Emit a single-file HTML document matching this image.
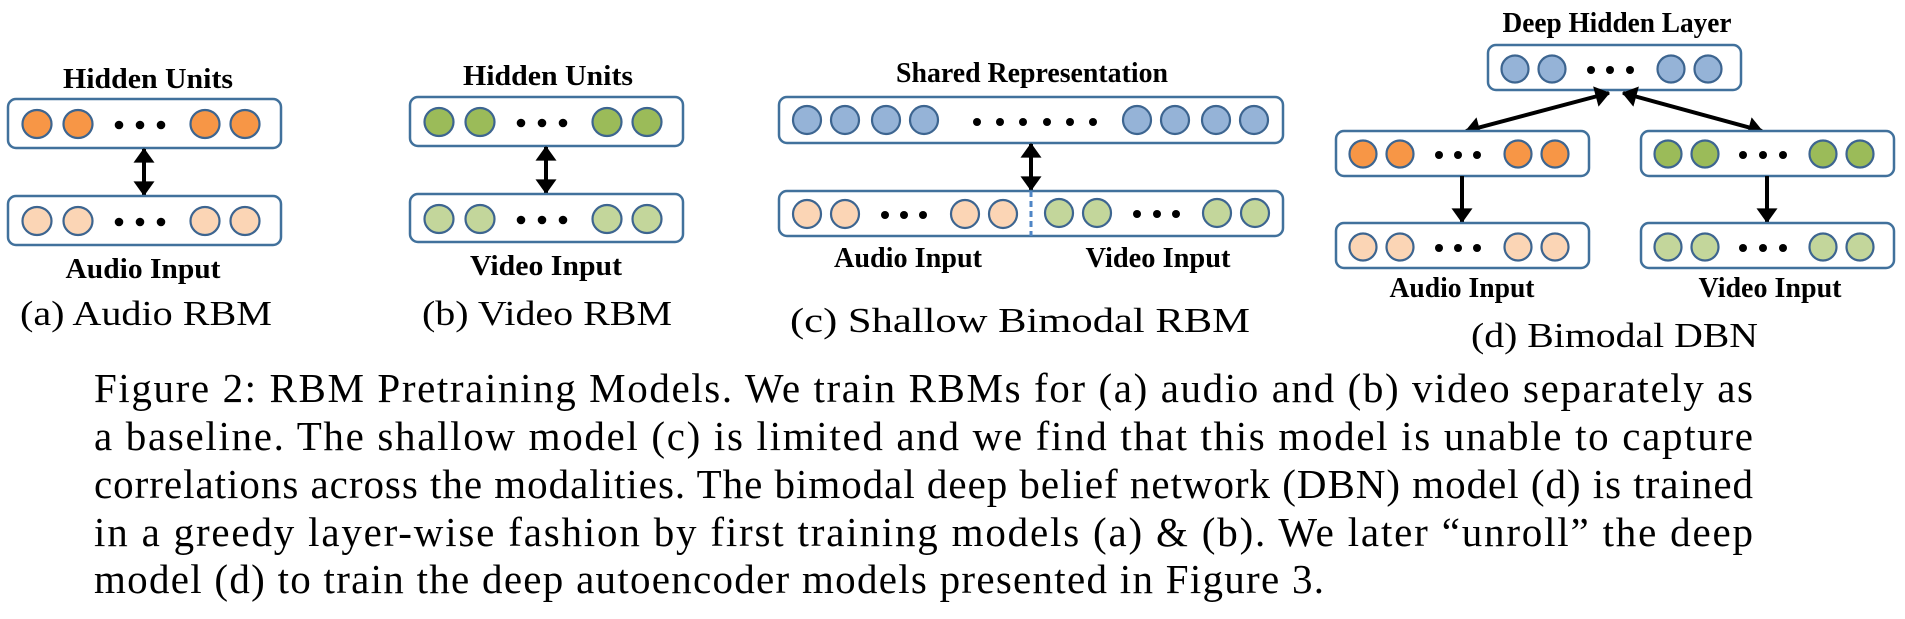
<!DOCTYPE html>
<html><head><meta charset="utf-8"><style>
html,body{margin:0;padding:0;background:#fff;}
svg{display:block}
.bl{font-family:"Liberation Serif",serif;font-weight:bold;font-size:28px;fill:#000}
.cap{font-family:"Liberation Serif",serif;font-size:35px;fill:#000}
.cp{font-family:"Liberation Serif",serif;font-size:41px;fill:#000}
.box{fill:#fff;stroke:#41719c;stroke-width:2.5}
circle.n,ellipse.n{stroke:#3d6590;stroke-width:2.2}
.ar{stroke:#000;stroke-width:4;fill:none}
</style></head><body>
<svg width="1905" height="619" viewBox="0 0 1905 619" xmlns="http://www.w3.org/2000/svg">
<defs>
<marker id="h" viewBox="0 0 14 20" refX="13" refY="10" markerUnits="userSpaceOnUse" markerWidth="15" markerHeight="21" orient="auto-start-reverse"><path d="M0,0 L14,10 L0,20 z" fill="#000"/></marker>
</defs>

<!-- (a) -->
<text class="bl" x="148" y="88" text-anchor="middle" textLength="170" lengthAdjust="spacingAndGlyphs">Hidden Units</text>
<rect class="box" x="8" y="99" width="273" height="49" rx="8"/>
<g fill="#f79646"><ellipse class="n" cx="37" cy="124" rx="14.5" ry="14"/><ellipse class="n" cx="78" cy="124" rx="14.5" ry="14"/><ellipse class="n" cx="205" cy="124" rx="14.5" ry="14"/><ellipse class="n" cx="245" cy="124" rx="14.5" ry="14"/></g>
<g fill="#000"><circle cx="119" cy="125" r="4.3"/><circle cx="140" cy="125" r="4.3"/><circle cx="161" cy="125" r="4.3"/></g>
<line class="ar" x1="144" y1="149" x2="144" y2="195" marker-start="url(#h)" marker-end="url(#h)"/>
<rect class="box" x="8" y="196" width="273" height="49" rx="8"/>
<g fill="#fbd5b5"><ellipse class="n" cx="37" cy="221" rx="14.5" ry="14"/><ellipse class="n" cx="78" cy="221" rx="14.5" ry="14"/><ellipse class="n" cx="205" cy="221" rx="14.5" ry="14"/><ellipse class="n" cx="245" cy="221" rx="14.5" ry="14"/></g>
<g fill="#000"><circle cx="119" cy="222" r="4.3"/><circle cx="140" cy="222" r="4.3"/><circle cx="161" cy="222" r="4.3"/></g>
<text class="bl" x="143" y="278" text-anchor="middle" textLength="155" lengthAdjust="spacingAndGlyphs">Audio Input</text>
<text class="cap" x="20" y="325" textLength="252" lengthAdjust="spacingAndGlyphs">(a) Audio RBM</text>

<!-- (b) -->
<text class="bl" x="548" y="85" text-anchor="middle" textLength="170" lengthAdjust="spacingAndGlyphs">Hidden Units</text>
<rect class="box" x="410" y="97" width="273" height="49" rx="8"/>
<g fill="#9bbb59"><ellipse class="n" cx="439" cy="122" rx="14.5" ry="14"/><ellipse class="n" cx="480" cy="122" rx="14.5" ry="14"/><ellipse class="n" cx="607" cy="122" rx="14.5" ry="14"/><ellipse class="n" cx="647" cy="122" rx="14.5" ry="14"/></g>
<g fill="#000"><circle cx="521" cy="123" r="4.3"/><circle cx="542" cy="123" r="4.3"/><circle cx="563" cy="123" r="4.3"/></g>
<line class="ar" x1="546" y1="147" x2="546" y2="193" marker-start="url(#h)" marker-end="url(#h)"/>
<rect class="box" x="410" y="194" width="273" height="48" rx="8"/>
<g fill="#c3d69b"><ellipse class="n" cx="439" cy="219" rx="14.5" ry="14"/><ellipse class="n" cx="480" cy="219" rx="14.5" ry="14"/><ellipse class="n" cx="607" cy="219" rx="14.5" ry="14"/><ellipse class="n" cx="647" cy="219" rx="14.5" ry="14"/></g>
<g fill="#000"><circle cx="521" cy="220" r="4.3"/><circle cx="542" cy="220" r="4.3"/><circle cx="563" cy="220" r="4.3"/></g>
<text class="bl" x="546" y="275" text-anchor="middle" textLength="152" lengthAdjust="spacingAndGlyphs">Video Input</text>
<text class="cap" x="422" y="325" textLength="250" lengthAdjust="spacingAndGlyphs">(b) Video RBM</text>

<!-- (c) -->
<text class="bl" x="896" y="82" textLength="272" lengthAdjust="spacingAndGlyphs">Shared Representation</text>
<rect class="box" x="779" y="97" width="504" height="46" rx="8"/>
<g fill="#95b3d7"><ellipse class="n" cx="807" cy="120" rx="14" ry="14"/><ellipse class="n" cx="845" cy="120" rx="14" ry="14"/><ellipse class="n" cx="886" cy="120" rx="14" ry="14"/><ellipse class="n" cx="924" cy="120" rx="14" ry="14"/><ellipse class="n" cx="1137" cy="120" rx="14" ry="14"/><ellipse class="n" cx="1175" cy="120" rx="14" ry="14"/><ellipse class="n" cx="1216" cy="120" rx="14" ry="14"/><ellipse class="n" cx="1254" cy="120" rx="14" ry="14"/></g>
<g fill="#000"><circle cx="977" cy="122" r="4"/><circle cx="1000" cy="122" r="4"/><circle cx="1023" cy="122" r="4"/><circle cx="1047" cy="122" r="4"/><circle cx="1070" cy="122" r="4"/><circle cx="1093" cy="122" r="4"/></g>
<line class="ar" x1="1031" y1="144" x2="1031" y2="190" marker-start="url(#h)" marker-end="url(#h)"/>
<rect class="box" x="779" y="191" width="504" height="45" rx="8"/>
<line x1="1031" y1="191" x2="1031" y2="236" stroke="#4f86c6" stroke-width="3" stroke-dasharray="6,4"/>
<g fill="#fbd5b5"><ellipse class="n" cx="807" cy="214" rx="14" ry="14"/><ellipse class="n" cx="845" cy="214" rx="14" ry="14"/><ellipse class="n" cx="965" cy="214" rx="14" ry="14"/><ellipse class="n" cx="1003" cy="214" rx="14" ry="14"/></g>
<g fill="#c3d69b"><ellipse class="n" cx="1059" cy="213" rx="14" ry="14"/><ellipse class="n" cx="1097" cy="213" rx="14" ry="14"/><ellipse class="n" cx="1217" cy="213" rx="14" ry="14"/><ellipse class="n" cx="1255" cy="213" rx="14" ry="14"/></g>
<g fill="#000"><circle cx="885" cy="215" r="4"/><circle cx="904" cy="215" r="4"/><circle cx="923" cy="215" r="4"/><circle cx="1137" cy="214" r="4"/><circle cx="1157" cy="214" r="4"/><circle cx="1176" cy="214" r="4"/></g>
<text class="bl" x="908" y="267" text-anchor="middle" textLength="148" lengthAdjust="spacingAndGlyphs">Audio Input</text>
<text class="bl" x="1158" y="267" text-anchor="middle" textLength="145" lengthAdjust="spacingAndGlyphs">Video Input</text>
<text class="cap" x="790" y="332" textLength="460" lengthAdjust="spacingAndGlyphs">(c) Shallow Bimodal RBM</text>

<!-- (d) -->
<text class="bl" x="1617" y="32" text-anchor="middle" textLength="229" lengthAdjust="spacingAndGlyphs">Deep Hidden Layer</text>
<rect class="box" x="1488" y="45" width="253" height="45" rx="8"/>
<g fill="#95b3d7"><ellipse class="n" cx="1515" cy="69" rx="13.5" ry="13.5"/><ellipse class="n" cx="1552" cy="69" rx="13.5" ry="13.5"/><ellipse class="n" cx="1671" cy="69" rx="13.5" ry="13.5"/><ellipse class="n" cx="1708" cy="69" rx="13.5" ry="13.5"/></g>
<g fill="#000"><circle cx="1591" cy="70" r="4"/><circle cx="1610" cy="70" r="4"/><circle cx="1630" cy="70" r="4"/></g>
<line class="ar" x1="1609" y1="93" x2="1466" y2="131" marker-start="url(#h)" marker-end="url(#h)"/>
<line class="ar" x1="1623" y1="93" x2="1762" y2="131" marker-start="url(#h)" marker-end="url(#h)"/>
<rect class="box" x="1336" y="131" width="253" height="45" rx="8"/>
<rect class="box" x="1641" y="131" width="253" height="45" rx="8"/>
<g fill="#f79646"><ellipse class="n" cx="1363" cy="154" rx="13.5" ry="13.5"/><ellipse class="n" cx="1400" cy="154" rx="13.5" ry="13.5"/><ellipse class="n" cx="1518" cy="154" rx="13.5" ry="13.5"/><ellipse class="n" cx="1555" cy="154" rx="13.5" ry="13.5"/></g>
<g fill="#9bbb59"><ellipse class="n" cx="1668" cy="154" rx="13.5" ry="13.5"/><ellipse class="n" cx="1705" cy="154" rx="13.5" ry="13.5"/><ellipse class="n" cx="1823" cy="154" rx="13.5" ry="13.5"/><ellipse class="n" cx="1860" cy="154" rx="13.5" ry="13.5"/></g>
<g fill="#000"><circle cx="1439" cy="155" r="4"/><circle cx="1458" cy="155" r="4"/><circle cx="1477" cy="155" r="4"/><circle cx="1743" cy="155" r="4"/><circle cx="1763" cy="155" r="4"/><circle cx="1783" cy="155" r="4"/></g>
<line class="ar" x1="1462" y1="176" x2="1462" y2="222" marker-end="url(#h)"/>
<line class="ar" x1="1767" y1="176" x2="1767" y2="222" marker-end="url(#h)"/>
<rect class="box" x="1336" y="223" width="253" height="45" rx="8"/>
<rect class="box" x="1641" y="223" width="253" height="45" rx="8"/>
<g fill="#fbd5b5"><ellipse class="n" cx="1363" cy="247" rx="13.5" ry="13.5"/><ellipse class="n" cx="1400" cy="247" rx="13.5" ry="13.5"/><ellipse class="n" cx="1518" cy="247" rx="13.5" ry="13.5"/><ellipse class="n" cx="1555" cy="247" rx="13.5" ry="13.5"/></g>
<g fill="#c3d69b"><ellipse class="n" cx="1668" cy="247" rx="13.5" ry="13.5"/><ellipse class="n" cx="1705" cy="247" rx="13.5" ry="13.5"/><ellipse class="n" cx="1823" cy="247" rx="13.5" ry="13.5"/><ellipse class="n" cx="1860" cy="247" rx="13.5" ry="13.5"/></g>
<g fill="#000"><circle cx="1439" cy="248" r="4"/><circle cx="1458" cy="248" r="4"/><circle cx="1477" cy="248" r="4"/><circle cx="1743" cy="248" r="4"/><circle cx="1763" cy="248" r="4"/><circle cx="1783" cy="248" r="4"/></g>
<text class="bl" x="1462" y="297" text-anchor="middle" textLength="145" lengthAdjust="spacingAndGlyphs">Audio Input</text>
<text class="bl" x="1770" y="297" text-anchor="middle" textLength="143" lengthAdjust="spacingAndGlyphs">Video Input</text>
<text class="cap" x="1471" y="347" textLength="287" lengthAdjust="spacingAndGlyphs">(d) Bimodal DBN</text>

<!-- caption -->
<g class="cp">
<text x="94" y="402" textLength="1659" lengthAdjust="spacing">Figure 2: RBM Pretraining Models. We train RBMs for (a) audio and (b) video separately as</text>
<text x="94" y="450" textLength="1659" lengthAdjust="spacing">a baseline. The shallow model (c) is limited and we find that this model is unable to capture</text>
<text x="94" y="498" textLength="1659" lengthAdjust="spacing">correlations across the modalities. The bimodal deep belief network (DBN) model (d) is trained</text>
<text x="94" y="546" textLength="1659" lengthAdjust="spacing">in a greedy layer-wise fashion by first training models (a) &amp; (b). We later “unroll” the deep</text>
<text x="94" y="593" textLength="1230" lengthAdjust="spacing">model (d) to train the deep autoencoder models presented in Figure 3.</text>
</g>
</svg>
</body></html>
